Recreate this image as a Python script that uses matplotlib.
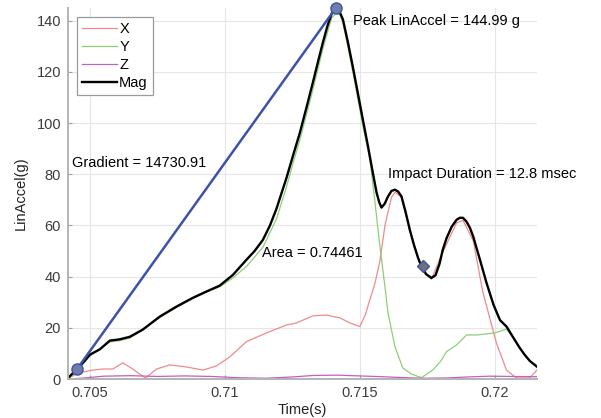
import matplotlib
matplotlib.use('Agg')
from matplotlib import pyplot as plt

plt.rcParams['font.family'] = ['Liberation Sans', 'DejaVu Sans']

# Mag (black)
t_mag = [0.70419, 0.70452, 0.70480, 0.70500, 0.70537, 0.70574, 0.70611, 0.70648,
         0.70696, 0.70759, 0.70821, 0.70881, 0.70932, 0.70981, 0.71030, 0.71080,
         0.71110, 0.71141, 0.71167, 0.71191, 0.71228, 0.71253, 0.71278, 0.71302,
         0.71326, 0.71345, 0.71363, 0.71380, 0.71395, 0.71403, 0.71411, 0.71418,
         0.71425, 0.71437, 0.71455, 0.71474, 0.71492, 0.71511, 0.71530, 0.71548,
         0.71562, 0.71572, 0.71580, 0.71592, 0.71604, 0.71617, 0.71630, 0.71642,
         0.71654, 0.71670, 0.71685, 0.71700, 0.71715, 0.71728, 0.71745, 0.71765,
         0.71780, 0.71795, 0.71807, 0.71821, 0.71840, 0.71858, 0.71870, 0.71882,
         0.71895, 0.71908, 0.71920, 0.71945, 0.71969, 0.71995, 0.72019, 0.72043,
         0.72067, 0.72090, 0.72110, 0.72130, 0.72156]
mag = [0.4, 3.8, 7, 9.5, 11.6, 15.0, 15.5, 16.5, 19.3, 24.4, 28.3, 31.7, 34.2, 36.5,
       40.7, 46.6, 50, 54.4, 60, 66.5, 78.5, 87.5, 96.3, 106, 115.9, 124, 131.5,
       138, 142.6, 144.3, 145.0, 144.6, 143.5, 140.6, 132, 122, 112, 101.4, 91, 80.6,
       72.8, 69, 67, 68.5, 71.3, 73.5, 74, 73.2, 71.4, 65, 58.3, 52.5, 47.5, 44, 41,
       39.5, 40.5, 45, 50.5, 55, 59.5, 62.2, 63, 63, 61.5, 59, 55.6, 46.5, 37.6, 29,
       23, 20.5, 16.4, 12.5, 9.5, 7, 4.8]

# X (red)
t_x = [0.70419, 0.70456, 0.70511, 0.70548, 0.70585, 0.70622, 0.70659, 0.70690,
       0.70707, 0.70725, 0.70747, 0.70796, 0.70858, 0.70919, 0.70969, 0.71019,
       0.71080, 0.71154, 0.71228, 0.71265, 0.71326, 0.71377, 0.71426, 0.71463,
       0.71500, 0.71520, 0.71537, 0.71555, 0.71574, 0.71593, 0.71617, 0.71630,
       0.71654, 0.71685, 0.71728, 0.71765, 0.71807, 0.71858, 0.71882, 0.71920,
       0.71956, 0.72006, 0.72043, 0.72080, 0.72129, 0.72156]
acc_x = [0.2, 2.3, 3.5, 3.9, 3.9, 6.3, 3.9, 1.5, 0.4, 2, 3.9, 5.5, 4.7, 3.5, 5.1, 8.7,
         14.6, 18, 21.1, 21.9, 24.7, 25, 23.9, 21.9, 20.5, 25, 31, 37, 46, 60, 71, 73,
         71, 58, 43.5, 39, 49.5, 61, 62, 54, 33.7, 14, 3.5, 0.4, 0.4, 3.5]

# Y (green)
t_y = [0.70419, 0.70452, 0.70500, 0.70574, 0.70611, 0.70648, 0.70696, 0.70759,
       0.70821, 0.70881, 0.70932, 0.70981, 0.71030, 0.71080, 0.71141, 0.71191,
       0.71228, 0.71253, 0.71278, 0.71326, 0.71363, 0.71395, 0.71411, 0.71425,
       0.71437, 0.71474, 0.71511, 0.71537, 0.71555, 0.71574, 0.71593, 0.71604,
       0.71630, 0.71659, 0.71690, 0.71728, 0.71770, 0.71800, 0.71821, 0.71858,
       0.71895, 0.71932, 0.72000, 0.72043, 0.72067, 0.72090, 0.72110, 0.72130,
       0.72156]
acc_y = [0.1, 3, 9, 14.5, 15, 16, 19.2, 24, 28, 31.4, 34, 36, 39.5, 44, 51.5, 62.5,
         75, 84.5, 93.5, 113, 129, 141, 143, 142.5, 139.5, 120, 99, 86, 70, 52, 36, 26,
         12.6, 4.3, 2, 0.5, 3.5, 7, 10.7, 13.3, 17.2, 17.2, 18, 19.5, 16.4, 12.5, 9.5,
         7, 4.8]

# Z (magenta)
t_z = [0.70419, 0.70480, 0.70550, 0.70650, 0.70750, 0.70850, 0.70950, 0.71050,
       0.71150, 0.71250, 0.71330, 0.71420, 0.71500, 0.71580, 0.71650, 0.71730,
       0.71820, 0.71900, 0.71980, 0.72060, 0.72156]
acc_z = [0, 0.4, 1.1, 1.3, 1.0, 1.2, 1.0, 0.5, 0.3, 0.8, 1.4, 1.5, 1.2, 0.9, 0.6, 0.3,
         0.4, 0.8, 1.1, 1.0, 0.9]

# impact markers
t_start, v_start = 0.70452, 3.8
t_peak, v_peak = 0.71411, 144.99
t_end, v_end = 0.71732, 44.0

fig = plt.figure(figsize=(6.01, 4.18), dpi=100)
ax = fig.add_axes([0.1131, 0.0933, 0.7804, 0.8876])

ax.plot(t_x, acc_x, color='#f08a8a', lw=0.9, label='X')
ax.plot(t_y, acc_y, color='#8ccf78', lw=0.9, label='Y')
ax.plot(t_z, acc_z, color='#c060c0', lw=0.9, label='Z')
ax.plot(t_mag, mag, color='black', lw=1.7, label='Mag')

# gradient line with end markers
ax.plot([t_start, t_peak], [v_start, v_peak], color='#3d52a8', lw=1.8, zorder=5)
ax.plot([t_start, t_peak], [v_start, v_peak], 'o', ms=8, mfc='#6f7dab',
        mec='#3d52a8', mew=1, zorder=6, clip_on=False)
ax.plot([t_end], [v_end], 'D', ms=6.5, mfc='#707078', mec='#3d52a8', mew=1,
        zorder=6)

ax.text(0.71474, 139.8, 'Peak LinAccel = 144.99 g', fontsize=10.5,
        va='center', ha='left')
ax.text(0.70433, 84.6, 'Gradient = 14730.91', fontsize=10.5, va='center', ha='left')
ax.text(0.71604, 80.3, 'Impact Duration = 12.8 msec', fontsize=10.5,
        va='center', ha='left')
ax.text(0.71137, 49.3, 'Area = 0.74461', fontsize=10.5, va='center', ha='left')

ax.set_xlim(0.70419, 0.72156)
ax.set_ylim(0, 145)
ax.set_xticks([0.705, 0.71, 0.715, 0.72])
ax.set_xticklabels(['0.705', '0.71', '0.715', '0.72'])
ax.set_yticks(range(0, 141, 20))
ax.grid(True, color='#e6e6e6', lw=0.8)
ax.set_axisbelow(True)

for side in ['top', 'right']:
    ax.spines[side].set_visible(False)
for side in ['left', 'bottom']:
    ax.spines[side].set_color('#b4b4b4')
    ax.spines[side].set_linewidth(1.4)
ax.tick_params(direction='in', length=3, color='#a0a0a0', labelsize=10.5,
               labelcolor='#3c3c3c', pad=5)

ax.set_xlabel('Time(s)', fontsize=10.5, color='#222222', labelpad=2)
ax.set_ylabel('LinAccel(g)', fontsize=10.5, color='#222222', labelpad=6)

leg = ax.legend(loc='upper left', bbox_to_anchor=(0.019, 0.976), fontsize=10.5,
                fancybox=False, edgecolor='#9a9a9a', framealpha=1,
                handlelength=2.4, handletextpad=0.15, labelspacing=0.28,
                borderpad=0.35, borderaxespad=0)
leg.get_frame().set_linewidth(0.9)

fig.savefig('out.png', dpi=100)
